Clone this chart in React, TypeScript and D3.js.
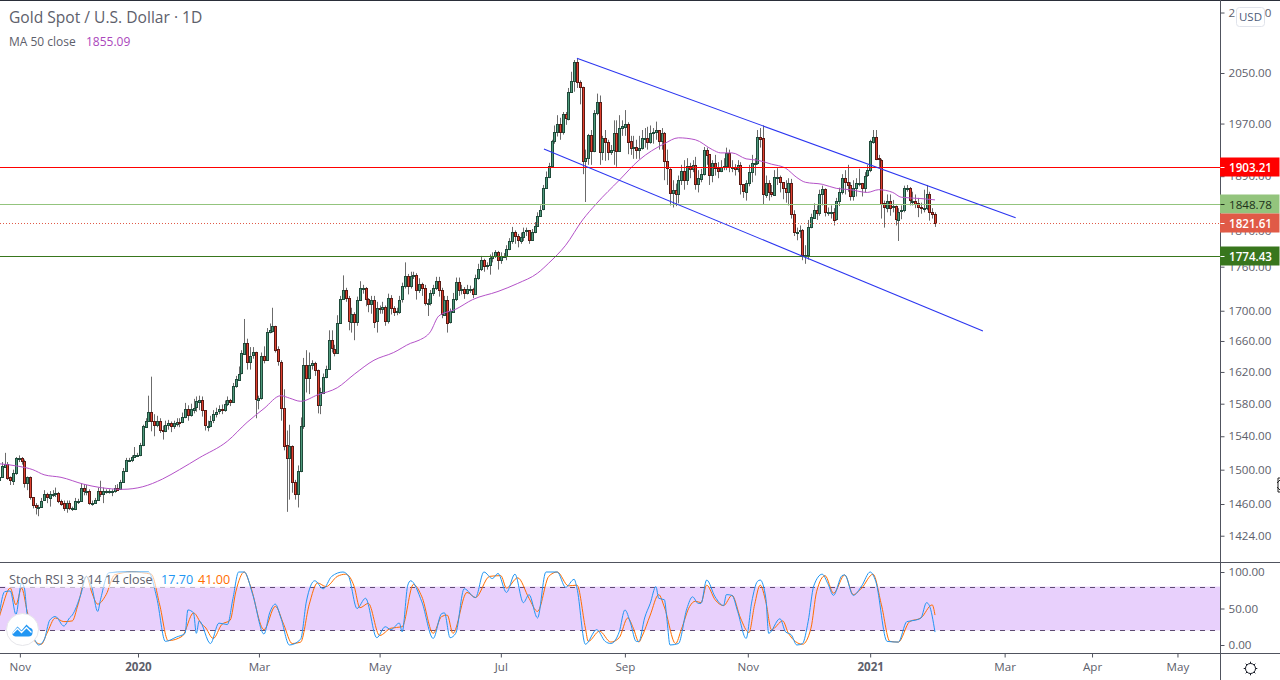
import React, { useRef, useEffect } from 'react';
import * as d3 from 'd3';

const WIDTH = 1280;
const HEIGHT = 680;
const FONT = '"Open Sans", sans-serif';

// daily candles, first open then each open sits on the previous close
const firstOpen = 1487;
const closes = [
  1491, 1504, 1507, 1491, 1487, 1496, 1514, 1514, 1510, 1484,
  1491, 1468, 1459, 1457, 1457, 1464, 1471, 1467, 1472, 1472,
  1473, 1464, 1461, 1455, 1461, 1455, 1455, 1464, 1464, 1479,
  1475, 1475, 1461, 1461, 1465, 1475, 1471, 1475, 1475, 1475,
  1475, 1479, 1477, 1485, 1498, 1511, 1511, 1515, 1517, 1517,
  1529, 1552, 1559, 1570, 1559, 1554, 1559, 1548, 1547, 1554,
  1556, 1552, 1556, 1558, 1557, 1563, 1573, 1565, 1573, 1575,
  1583, 1585, 1572, 1553, 1553, 1559, 1567, 1570, 1573, 1572,
  1579, 1584, 1582, 1602, 1611, 1618, 1644, 1658, 1633, 1641,
  1645, 1585, 1587, 1641, 1636, 1672, 1674, 1680, 1649, 1633,
  1575, 1529, 1514, 1528, 1485, 1471, 1498, 1552, 1629, 1612,
  1629, 1631, 1622, 1578, 1594, 1614, 1624, 1661, 1650, 1645,
  1684, 1716, 1728, 1717, 1686, 1696, 1686, 1715, 1731, 1731,
  1716, 1709, 1715, 1686, 1704, 1702, 1705, 1686, 1717, 1704,
  1698, 1699, 1715, 1733, 1747, 1733, 1747, 1749, 1728, 1736,
  1731, 1711, 1711, 1724, 1731, 1740, 1728, 1695, 1715, 1684,
  1699, 1716, 1739, 1728, 1730, 1724, 1730, 1730, 1723, 1745,
  1757, 1769, 1761, 1762, 1772, 1775, 1780, 1769, 1775, 1775,
  1785, 1796, 1809, 1803, 1797, 1802, 1809, 1811, 1797, 1809,
  1818, 1832, 1841, 1872, 1889, 1905, 1943, 1957, 1970, 1957,
  1985, 1978, 2020, 2037, 2068, 2035, 2027, 1912, 1917, 1952,
  1928, 1987, 2004, 1926, 1947, 1941, 1926, 1929, 1955, 1928,
  1963, 1966, 1970, 1943, 1932, 1934, 1929, 1932, 1947, 1947,
  1941, 1955, 1957, 1960, 1943, 1955, 1912, 1901, 1866, 1870,
  1864, 1884, 1898, 1884, 1905, 1901, 1907, 1878, 1887, 1894,
  1930, 1923, 1891, 1909, 1902, 1898, 1904, 1905, 1925, 1904,
  1904, 1901, 1907, 1878, 1867, 1880, 1896, 1910, 1910, 1950,
  1947, 1863, 1880, 1866, 1863, 1889, 1889, 1881, 1872, 1866,
  1880, 1835, 1809, 1809, 1811, 1775, 1776, 1816, 1830, 1841,
  1836, 1864, 1871, 1838, 1838, 1838, 1827, 1853, 1866, 1887,
  1881, 1877, 1861, 1873, 1880, 1880, 1873, 1891, 1899, 1943,
  1950, 1917, 1915, 1850, 1844, 1854, 1844, 1846, 1827, 1838,
  1840, 1872, 1872, 1854, 1854, 1850, 1844, 1843, 1843, 1863, 1837, 1834, 1821.61,
];
const highs = [
  1497, 1509, 1520, 1509, 1492, 1500, 1515, 1517, 1515, 1512,
  1492, 1492, 1468, 1461, 1459, 1467, 1476, 1473, 1475, 1476,
  1479, 1474, 1465, 1464, 1464, 1464, 1457, 1467, 1466, 1484,
  1483, 1482, 1477, 1464, 1467, 1479, 1487, 1479, 1477, 1477,
  1477, 1482, 1483, 1488, 1502, 1514, 1514, 1517, 1527, 1520,
  1532, 1554, 1562, 1590, 1614, 1567, 1565, 1562, 1553, 1559,
  1560, 1558, 1559, 1562, 1562, 1569, 1581, 1578, 1580, 1586,
  1589, 1590, 1589, 1572, 1559, 1565, 1572, 1575, 1578, 1579,
  1584, 1589, 1586, 1606, 1615, 1627, 1648, 1689, 1663, 1652,
  1652, 1646, 1590, 1645, 1653, 1677, 1683, 1704, 1680, 1653,
  1635, 1598, 1547, 1554, 1529, 1488, 1505, 1563, 1638, 1648,
  1645, 1635, 1633, 1623, 1600, 1618, 1628, 1674, 1674, 1655,
  1694, 1720, 1748, 1731, 1720, 1704, 1698, 1719, 1740, 1735,
  1732, 1717, 1720, 1720, 1712, 1707, 1712, 1707, 1723, 1721,
  1706, 1704, 1720, 1738, 1766, 1750, 1753, 1753, 1751, 1744,
  1738, 1735, 1716, 1728, 1735, 1746, 1746, 1731, 1720, 1720,
  1703, 1724, 1745, 1745, 1735, 1732, 1735, 1734, 1731, 1749,
  1764, 1775, 1771, 1766, 1777, 1780, 1783, 1782, 1780, 1779,
  1790, 1800, 1816, 1811, 1806, 1808, 1815, 1815, 1811, 1813,
  1823, 1837, 1847, 1877, 1897, 1910, 1945, 1967, 1983, 1979,
  1988, 1988, 2026, 2052, 2071, 2073, 2038, 2028, 1930, 1954,
  1960, 1991, 2017, 2014, 1951, 1960, 1945, 1937, 1975, 1975,
  1983, 1975, 1991, 1972, 1951, 1951, 1945, 1951, 1960, 1963,
  1965, 1967, 1963, 1973, 1960, 1963, 1957, 1930, 1902, 1884,
  1879, 1891, 1907, 1914, 1917, 1910, 1914, 1919, 1899, 1901,
  1934, 1933, 1922, 1914, 1922, 1911, 1914, 1917, 1933, 1930,
  1914, 1908, 1914, 1911, 1877, 1884, 1907, 1922, 1917, 1960,
  1963, 1967, 1891, 1884, 1877, 1899, 1902, 1891, 1881, 1884,
  1887, 1886, 1840, 1815, 1818, 1813, 1790, 1826, 1835, 1850,
  1847, 1870, 1876, 1872, 1844, 1847, 1843, 1858, 1873, 1893,
  1899, 1907, 1881, 1884, 1887, 1901, 1880, 1896, 1907, 1945,
  1960, 1960, 1922, 1916, 1854, 1863, 1863, 1855, 1847, 1843,
  1847, 1876, 1877, 1874, 1867, 1863, 1858, 1851, 1870, 1877, 1867, 1843, 1837,
];
const lows = [
  1484, 1496, 1503, 1488, 1482, 1482, 1494, 1509, 1506, 1479,
  1476, 1465, 1455, 1448, 1446, 1457, 1464, 1461, 1457, 1468,
  1468, 1461, 1458, 1452, 1450, 1453, 1452, 1453, 1460, 1463,
  1470, 1470, 1459, 1458, 1460, 1464, 1468, 1461, 1472, 1472,
  1469, 1473, 1475, 1477, 1485, 1498, 1509, 1509, 1514, 1515,
  1516, 1528, 1551, 1559, 1546, 1540, 1551, 1544, 1536, 1545,
  1548, 1545, 1549, 1552, 1551, 1556, 1562, 1559, 1564, 1568,
  1570, 1572, 1564, 1547, 1546, 1551, 1556, 1563, 1567, 1567,
  1570, 1577, 1577, 1582, 1600, 1609, 1617, 1643, 1623, 1623,
  1637, 1562, 1573, 1585, 1631, 1635, 1670, 1671, 1645, 1628,
  1559, 1523, 1451, 1465, 1473, 1465, 1456, 1497, 1549, 1594,
  1592, 1623, 1615, 1568, 1567, 1592, 1612, 1623, 1645, 1640,
  1644, 1683, 1716, 1712, 1674, 1671, 1661, 1680, 1714, 1723,
  1706, 1698, 1696, 1677, 1671, 1696, 1696, 1680, 1683, 1695,
  1693, 1694, 1696, 1711, 1730, 1722, 1730, 1743, 1715, 1724,
  1720, 1707, 1693, 1707, 1720, 1728, 1719, 1690, 1693, 1671,
  1683, 1698, 1713, 1720, 1722, 1716, 1722, 1724, 1717, 1722,
  1742, 1754, 1753, 1756, 1749, 1766, 1772, 1756, 1764, 1772,
  1769, 1783, 1792, 1792, 1787, 1792, 1796, 1803, 1792, 1796,
  1807, 1817, 1831, 1840, 1871, 1887, 1904, 1939, 1950, 1945,
  1953, 1968, 1975, 2019, 2020, 2026, 2000, 1893, 1852, 1907,
  1907, 1926, 1983, 1907, 1914, 1913, 1914, 1922, 1907, 1904,
  1930, 1951, 1951, 1923, 1922, 1916, 1916, 1916, 1930, 1933,
  1930, 1939, 1939, 1945, 1930, 1930, 1884, 1877, 1847, 1844,
  1846, 1850, 1877, 1870, 1877, 1887, 1896, 1870, 1866, 1881,
  1891, 1907, 1877, 1881, 1891, 1887, 1896, 1899, 1899, 1896,
  1896, 1891, 1896, 1863, 1858, 1854, 1875, 1881, 1891, 1907,
  1933, 1848, 1858, 1854, 1859, 1863, 1877, 1866, 1856, 1851,
  1847, 1828, 1803, 1797, 1800, 1769, 1764, 1770, 1814, 1828,
  1826, 1832, 1847, 1831, 1832, 1828, 1818, 1825, 1846, 1863,
  1863, 1867, 1854, 1854, 1860, 1875, 1860, 1866, 1889, 1896,
  1939, 1914, 1904, 1828, 1815, 1837, 1832, 1837, 1818, 1796,
  1827, 1837, 1867, 1847, 1847, 1843, 1830, 1835, 1837, 1840, 1825, 1828, 1816,
];

// MA 50 at these bars
const maBars = [0, 7, 12, 16, 22, 30, 36, 44, 51, 58, 64, 71, 81, 88, 94, 100, 103, 107, 113, 120, 126, 133, 140, 146, 149, 153, 156, 162, 168, 177, 184, 191, 195, 201, 207, 212, 220, 227, 236, 241, 247, 253, 256, 260, 265, 269, 274, 279, 283, 286, 292, 297, 302, 308, 312, 317, 320, 327, 332];
const maValues = [1507, 1504, 1500, 1494, 1491, 1483, 1479, 1477, 1480, 1489, 1500, 1514, 1534, 1557, 1574, 1590, 1587, 1583, 1591, 1600, 1617, 1635, 1645, 1657, 1661, 1672, 1693, 1702, 1715, 1726, 1737, 1751, 1765, 1790, 1826, 1850, 1884, 1914, 1939, 1948, 1945, 1930, 1925, 1925, 1916, 1914, 1908, 1902, 1888, 1881, 1878, 1872, 1870, 1866, 1870, 1866, 1859, 1857, 1855.09];

// Stoch RSI, K and D
const kBars = [0, 2, 4, 6, 8, 9, 10, 13, 14, 16, 18, 20, 23, 25, 26, 29, 31, 33, 35, 36, 39, 45, 53, 56, 59, 63, 66, 67, 69, 70, 71, 75, 78, 81, 83, 85, 87, 90, 94, 96, 98, 100, 103, 107, 109, 112, 115, 118, 122, 124, 127, 130, 134, 137, 139, 142, 143, 145, 146, 150, 154, 157, 158, 160, 162, 165, 169, 172, 175, 177, 180, 183, 186, 188, 191, 194, 198, 201, 204, 205, 208, 212, 215, 217, 220, 222, 224, 226, 227, 229, 231, 233, 234, 236, 237, 238, 241, 244, 246, 248, 249, 251, 254, 257, 258, 260, 262, 265, 267, 269, 270, 272, 273, 277, 279, 281, 283, 285, 287, 289, 292, 294, 296, 299, 300, 303, 306, 309, 311, 315, 319, 322, 325, 327, 329, 330, 332];
const kValues = [39, 73, 74, 42, 85, 78, 41, 5, 0, 7, 34, 39, 26, 37, 41, 69, 94, 78, 46, 62, 99, 100, 100, 64, 5, 11, 16, 48, 44, 16, 33, 2, 30, 28, 64, 100, 100, 69, 15, 44, 56, 37, 0, 8, 59, 88, 77, 94, 100, 94, 50, 64, 10, 25, 21, 30, 18, 82, 88, 59, 9, 43, 44, 10, 16, 77, 65, 100, 91, 98, 72, 97, 58, 69, 37, 100, 100, 79, 90, 78, 1, 21, 5, 2, 18, 48, 30, 5, 5, 37, 57, 80, 64, 62, 32, 0, 2, 50, 66, 57, 57, 89, 66, 54, 69, 68, 46, 9, 59, 87, 89, 64, 16, 36, 18, 14, 0, 2, 32, 81, 97, 84, 68, 95, 96, 68, 81, 100, 87, 5, 4, 32, 34, 37, 58, 54, 17.7];
const dBars = [0, 1, 4, 6, 8, 10, 13, 15, 17, 20, 23, 26, 28, 31, 33, 35, 38, 41, 47, 54, 57, 60, 65, 69, 72, 73, 76, 79, 82, 84, 87, 89, 94, 98, 101, 104, 107, 110, 113, 116, 120, 123, 126, 128, 131, 135, 139, 143, 147, 150, 154, 157, 159, 161, 166, 169, 174, 178, 180, 184, 188, 191, 195, 198, 202, 205, 208, 209, 213, 217, 220, 223, 225, 227, 228, 231, 234, 236, 240, 242, 245, 247, 249, 251, 254, 257, 260, 263, 266, 268, 270, 272, 274, 278, 280, 285, 288, 290, 293, 296, 300, 303, 306, 310, 313, 316, 319, 323, 327, 331, 332];
const dValues = [37, 50, 78, 55, 78, 46, 4, 1, 16, 37, 32, 33, 55, 94, 71, 56, 69, 96, 100, 97, 55, 6, 12, 44, 28, 25, 9, 28, 34, 73, 100, 83, 21, 53, 28, 2, 4, 55, 85, 80, 94, 97, 80, 51, 57, 13, 23, 25, 83, 66, 16, 39, 41, 16, 72, 65, 94, 95, 78, 92, 64, 46, 94, 100, 81, 82, 23, 5, 19, 4, 10, 37, 23, 4, 11, 41, 69, 52, 2, 21, 53, 60, 58, 82, 62, 54, 68, 37, 17, 55, 82, 59, 21, 33, 16, 1, 23, 73, 95, 71, 96, 69, 78, 97, 55, 5, 4, 32, 37, 55, 41];

const priceTicks = [2150, 2050, 1970, 1890, 1810, 1760, 1700, 1660, 1620, 1580, 1540, 1500, 1460, 1424];
const stochTicks = [0, 50, 100];
const timeTickBars = [7.4, 49.3, 92.2, 135, 178, 222, 265.6, 309, 356.7, 387.7, 418];
const timeTickLabels = ['Nov', '2020', 'Mar', 'May', 'Jul', 'Sep', 'Nov', '2021', 'Mar', 'Apr', 'May'];

// horizontal levels with their axis labels
const levelValues = [1903.21, 1848.78, 1821.61, 1774.43];
const levelColors = ['#ff0000', '#93c47d', '#e05a47', '#38761d'];
const levelTextColors = ['#ffffff', '#20301a', '#ffffff', '#ffffff'];

// channel drawn on the chart, [bar, price]
const channelUpper: [number, number][] = [[205, 2074], [360.6, 1829]];
const channelLower: [number, number][] = [[193.3, 1931], [349, 1673]];

const App: React.FC = () => {
  const svgRef = useRef<SVGSVGElement>(null);

  useEffect(() => {
    if (!svgRef.current) return;
    const svg = d3.select(svgRef.current);
    svg.selectAll('*').remove();
    svg.style('font-family', FONT);

    const axisX = 1220.5;
    const paneBottom = 562.5;
    const timeTop = 653.5;

    const x = d3.scaleLinear().domain([0, closes.length - 1]).range([-1, 935]);
    // price axis is logarithmic
    const y = d3.scaleLog().domain([2050, 1460]).range([73, 504]);
    const yStoch = d3.scaleLinear().domain([0, 100]).range([645, 572]);

    svg.append('rect').attr('width', WIDTH).attr('height', HEIGHT).attr('fill', '#ffffff');

    // stoch band
    svg.append('rect')
      .attr('x', 0)
      .attr('y', yStoch(80))
      .attr('width', axisX)
      .attr('height', yStoch(20) - yStoch(80))
      .attr('fill', '#e8d0fc');
    [80, 20].forEach(v => {
      svg.append('line')
        .attr('x1', 0)
        .attr('x2', axisX)
        .attr('y1', Math.round(yStoch(v)) + 0.5)
        .attr('y2', Math.round(yStoch(v)) + 0.5)
        .attr('stroke', '#5f4b73')
        .attr('stroke-dasharray', '5,5');
    });

    // candles
    const candles = closes.map((close, i) => ({
      i,
      open: i === 0 ? firstOpen : closes[i - 1],
      close,
      high: highs[i],
      low: lows[i],
    }));
    const candleG = svg.append('g');
    candleG.selectAll('line')
      .data(candles)
      .enter()
      .append('line')
      .attr('x1', d => Math.round(x(d.i)) + 0.5)
      .attr('x2', d => Math.round(x(d.i)) + 0.5)
      .attr('y1', d => y(d.high))
      .attr('y2', d => y(d.low))
      .attr('stroke', '#6b6b6b');
    candleG.selectAll('rect')
      .data(candles)
      .enter()
      .append('rect')
      .attr('x', d => Math.round(x(d.i)) - 0.5)
      .attr('width', 2)
      .attr('y', d => Math.round(y(Math.max(d.open, d.close))) + 0.5)
      .attr('height', d => Math.max(1, Math.round(Math.abs(y(d.open) - y(d.close)))))
      .attr('fill', d => (d.close >= d.open ? '#4f9a7c' : '#e0402f'))
      .attr('stroke', d => (d.close >= d.open ? '#1f4a3a' : '#5a1a14'));

    // MA 50
    const maLine = d3.line<number>()
      .x((_, i) => x(maBars[i]))
      .y(d => y(d))
      .curve(d3.curveMonotoneX);
    svg.append('path')
      .attr('d', maLine(maValues))
      .attr('fill', 'none')
      .attr('stroke', '#b452c8')
      .attr('stroke-width', 1);

    // level lines
    levelValues.forEach((v, i) => {
      svg.append('line')
        .attr('x1', 0)
        .attr('x2', axisX)
        .attr('y1', Math.round(y(v)) + 0.5)
        .attr('y2', Math.round(y(v)) + 0.5)
        .attr('stroke', levelColors[i])
        .attr('stroke-dasharray', i === 2 ? '1,2' : null);
    });

    // channel
    [channelUpper, channelLower].forEach(pts => {
      svg.append('line')
        .attr('x1', x(pts[0][0]))
        .attr('y1', y(pts[0][1]))
        .attr('x2', x(pts[1][0]))
        .attr('y2', y(pts[1][1]))
        .attr('stroke', '#2b35f0')
        .attr('stroke-width', 1.1);
    });

    // stoch lines
    const stochLine = (bars: number[]) => d3.line<number>()
      .x((_, i) => x(bars[i]))
      .y(d => yStoch(d))
      .curve(d3.curveMonotoneX);
    svg.append('path')
      .attr('d', stochLine(dBars)(dValues))
      .attr('fill', 'none')
      .attr('stroke', '#ff6d00');
    svg.append('path')
      .attr('d', stochLine(kBars)(kValues))
      .attr('fill', 'none')
      .attr('stroke', '#2196f3');

    // frame lines
    const frame = '#50535e';
    svg.append('line').attr('x1', 0).attr('x2', WIDTH).attr('y1', 0.5).attr('y2', 0.5).attr('stroke', '#2a2e39');
    svg.append('line').attr('x1', 0).attr('x2', WIDTH).attr('y1', paneBottom).attr('y2', paneBottom).attr('stroke', frame);
    svg.append('line').attr('x1', 0).attr('x2', WIDTH).attr('y1', timeTop).attr('y2', timeTop).attr('stroke', frame);
    svg.append('line').attr('x1', axisX).attr('x2', axisX).attr('y1', 0).attr('y2', HEIGHT).attr('stroke', frame);

    // axes
    const styleAxis = (g: d3.Selection<SVGGElement, unknown, null, undefined>) => {
      g.select('.domain').remove();
      g.selectAll('line').attr('stroke', frame);
      g.selectAll('text').attr('fill', '#5d606b').style('font-size', '11.6px').style('font-family', FONT);
    };
    svg.append('g')
      .attr('transform', `translate(${axisX},0)`)
      .call(d3.axisRight(y).tickValues(priceTicks).tickFormat(d3.format('.2f') as any).tickSize(4).tickPadding(4))
      .call(styleAxis);
    svg.append('g')
      .attr('transform', `translate(${axisX},0)`)
      .call(d3.axisRight(yStoch).tickValues(stochTicks).tickFormat(d3.format('.2f') as any).tickSize(4).tickPadding(4))
      .call(styleAxis);
    const timeAxis = svg.append('g')
      .attr('transform', `translate(0,${timeTop})`)
      .call(d3.axisBottom(x).tickValues(timeTickBars).tickFormat((_, i) => timeTickLabels[i]).tickSize(4).tickPadding(5))
      .call(styleAxis);
    timeAxis.selectAll('text')
      .style('font-weight', (_, i) => (timeTickLabels[i].length === 4 ? '700' : '400'));

    // axis labels of the levels
    levelValues.forEach((v, i) => {
      const cy = y(v);
      svg.append('rect')
        .attr('x', axisX - 0.5)
        .attr('y', Math.round(cy) - 9.5)
        .attr('width', WIDTH - axisX)
        .attr('height', 19)
        .attr('fill', levelColors[i]);
      svg.append('line')
        .attr('x1', axisX)
        .attr('x2', axisX + 4)
        .attr('y1', Math.round(cy) + 0.5)
        .attr('y2', Math.round(cy) + 0.5)
        .attr('stroke', levelTextColors[i]);
      svg.append('text')
        .attr('x', axisX + 8.5)
        .attr('y', Math.round(cy) + 4.5)
        .attr('fill', levelTextColors[i])
        .style('font-size', '11.6px')
        .style('font-weight', i === 1 ? '400' : '600')
        .text(v.toFixed(2));
    });

    // USD badge
    svg.append('rect')
      .attr('x', 1236.5).attr('y', 7.5).attr('width', 28).attr('height', 19).attr('rx', 3)
      .attr('fill', '#ffffff').attr('stroke', '#e0e3eb');
    svg.append('text')
      .attr('x', 1250.5).attr('y', 21).attr('text-anchor', 'middle')
      .attr('fill', '#4c5a78').style('font-size', '11.5px').text('USD');

    // legends
    svg.append('text').attr('x', 9).attr('y', 23).attr('fill', '#5d606b').style('font-size', '15.6px').text('Gold Spot / U.S. Dollar · 1D');
    svg.append('text').attr('x', 9).attr('y', 46).attr('fill', '#5d606b').style('font-size', '12px').text('MA 50 close');
    svg.append('text').attr('x', 86).attr('y', 46).attr('fill', '#ab47bc').style('font-size', '12px').text('1855.09');
    svg.append('rect').attr('x', 6).attr('y', 572).attr('width', 228).attr('height', 16).attr('fill', '#ffffff').attr('opacity', 0.6);
    svg.append('text').attr('x', 9).attr('y', 584).attr('fill', '#5d606b').style('font-size', '12.6px').text('Stoch RSI 3 3 14 14 close');
    svg.append('text').attr('x', 161).attr('y', 584).attr('fill', '#2196f3').style('font-size', '12.6px').text('17.70');
    svg.append('text').attr('x', 198).attr('y', 584).attr('fill', '#ff6d00').style('font-size', '12.6px').text('41.00');

    // logo
    const logo = svg.append('g').attr('transform', 'translate(22.5,629.5)');
    logo.append('circle').attr('r', 16).attr('fill', '#ffffff').attr('stroke', '#e6e6ea');
    logo.append('path')
      .attr('d', 'M-10,3 L-5,-3 L-1,1 L4,-5 L7,-2 Q11,-1 10,3 Q10,7 6,7 L-7,7 Q-11,6 -10,3 Z')
      .attr('fill', '#2196f3');
    logo.append('path')
      .attr('d', 'M-10,4 L-5,-1 L-1,3 L4,-2 L9,3')
      .attr('fill', 'none').attr('stroke', '#ffffff').attr('stroke-width', 1.3);

    // settings gear
    const gear = svg.append('g').attr('transform', 'translate(1250.5,668.5)').attr('stroke', '#131722').attr('fill', 'none');
    gear.append('circle').attr('r', 5);
    d3.range(8).forEach(k => {
      const a = (k * Math.PI) / 4;
      gear.append('line')
        .attr('x1', 5 * Math.cos(a)).attr('y1', 5 * Math.sin(a))
        .attr('x2', 6.8 * Math.cos(a)).attr('y2', 6.8 * Math.sin(a));
    });

    // resize cursor at the edge
    svg.append('path')
      .attr('d', 'M1280,478 L1278,478 L1278,492 L1280,492 M1277,483 L1280,480 M1277,487 L1280,490')
      .attr('fill', 'none').attr('stroke', '#222');
  }, []);

  return (
    <>
      <style>{'body{margin:0}'}</style>
      <svg ref={svgRef} width={WIDTH} height={HEIGHT} style={{ display: 'block' }} />
    </>
  );
};

export default App;
